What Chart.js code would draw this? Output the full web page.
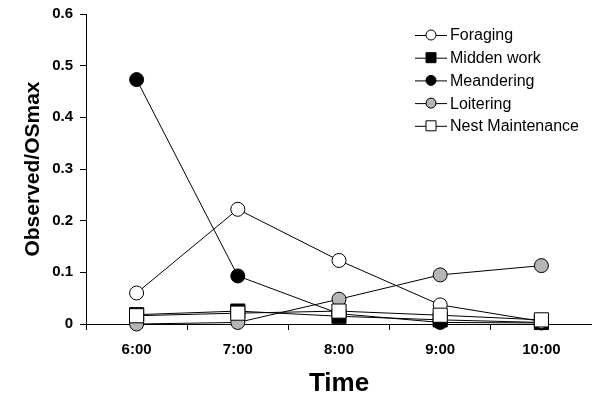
<!DOCTYPE html>
<html>
<head>
<meta charset="utf-8">
<script src="https://cdn.jsdelivr.net/npm/chart.js@4/dist/chart.umd.min.js"></script>
<style>
  html, body { margin: 0; padding: 0; background: #fff; }
  #wrap { width: 592px; height: 399px; }
</style>
</head>
<body>
<div id="wrap"><canvas id="chart" width="592" height="399"></canvas></div>
<script>
const times = ['6:00', '7:00', '8:00', '9:00', '10:00'];
const yTicks = [0, 0.1, 0.2, 0.3, 0.4, 0.5, 0.6];

const foraging = [0.060, 0.222, 0.123, 0.037, 0.005];
const middenWork = [0.018, 0.025, 0.015, 0.008, 0.003];
const meandering = [0.473, 0.093, 0.020, 0.003, 0.002];
const loitering = [0.000, 0.003, 0.048, 0.095, 0.113];
const nestMaintenance = [0.016, 0.021, 0.025, 0.017, 0.008];

const FONT = 'Arial, "Liberation Sans", sans-serif';

function series(label, data, style, fill, order) {
    return {
        label: label,
        data: data,
        borderColor: '#000',
        borderWidth: 1,
        backgroundColor: fill,
        pointStyle: style,
        pointRadius: style === 'rect' ? 10 : 7,
        pointBackgroundColor: fill,
        pointBorderColor: '#000',
        pointBorderWidth: 1,
        tension: 0,
        fill: false,
        clip: false,
        order: order
    };
}

// legend drawn by hand: a short line through the marker, like the figure
const lineLegend = {
    id: 'lineLegend',
    afterDraw(chart) {
        const ctx = chart.ctx;
        const x0 = 415, x1 = 447, mx = 431, tx = 450;
        let y = 35;
        ctx.save();
        chart.data.datasets.forEach(ds => {
            ctx.strokeStyle = '#000';
            ctx.lineWidth = 1;
            ctx.beginPath();
            ctx.moveTo(x0, y + 0.5);
            ctx.lineTo(x1, y + 0.5);
            ctx.stroke();
            ctx.fillStyle = ds.pointBackgroundColor;
            ctx.beginPath();
            if (ds.pointStyle === 'rect') {
                ctx.rect(mx - 5, y - 5, 10, 10);
            } else {
                ctx.arc(mx, y, 5, 0, Math.PI * 2);
            }
            ctx.fill();
            ctx.stroke();
            ctx.fillStyle = '#000';
            ctx.font = '16px ' + FONT;
            ctx.textBaseline = 'middle';
            ctx.textAlign = 'left';
            ctx.fillText(ds.label, tx, y + 1);
            y += 22.7;
        });
        ctx.restore();
    }
};

const ctx = document.getElementById('chart').getContext('2d');

new Chart(ctx, {
    type: 'line',
    data: {
        labels: times,
        datasets: [
            series('Foraging', foraging, 'circle', '#fff', 1),
            series('Midden work', middenWork, 'rect', '#000', 3),
            series('Meandering', meandering, 'circle', '#000', 2),
            series('Loitering', loitering, 'circle', '#b5b5b5', 4),
            series('Nest Maintenance', nestMaintenance, 'rect', '#fff', 0)
        ]
    },
    options: {
        responsive: false,
        animation: false,
        layout: {
            autoPadding: false,
            padding: { top: 14, right: 0, left: 0, bottom: 0 }
        },
        plugins: {
            legend: { display: false },
            tooltip: { enabled: false }
        },
        scales: {
            x: {
                offset: true,
                afterFit: scale => {
                    scale.height = 75;
                    scale.paddingLeft = 0;
                    scale.paddingRight = 0;
                },
                border: { color: '#000', width: 1 },
                grid: {
                    drawOnChartArea: false,
                    drawTicks: true,
                    tickLength: 6,
                    color: '#000',
                    offset: true
                },
                ticks: {
                    color: '#000',
                    padding: 11,
                    maxRotation: 0,
                    font: { family: FONT, size: 15, weight: 'bold' }
                },
                title: {
                    display: true,
                    text: 'Time',
                    color: '#000',
                    padding: { top: 0, bottom: 0 },
                    font: { family: FONT, size: 26, weight: 'bold' }
                }
            },
            y: {
                min: 0,
                max: 0.6,
                afterFit: scale => {
                    scale.width = 86;
                    scale.paddingTop = 0;
                    scale.paddingBottom = 0;
                },
                afterBuildTicks: scale => {
                    scale.ticks = yTicks.map(v => ({ value: v }));
                },
                border: { color: '#000', width: 1 },
                grid: {
                    drawOnChartArea: false,
                    drawTicks: true,
                    tickLength: 6,
                    color: '#000'
                },
                ticks: {
                    color: '#000',
                    padding: 7,
                    font: { family: FONT, size: 15, weight: 'bold' },
                    callback: v => (v === 0 ? '0' : v.toFixed(1))
                },
                title: {
                    display: true,
                    text: 'Observed/OSmax',
                    color: '#000',
                    padding: { top: 21, bottom: 0 },
                    font: { family: FONT, size: 21, weight: 'bold' }
                }
            }
        }
    },
    plugins: [lineLegend]
});
</script>
</body>
</html>
